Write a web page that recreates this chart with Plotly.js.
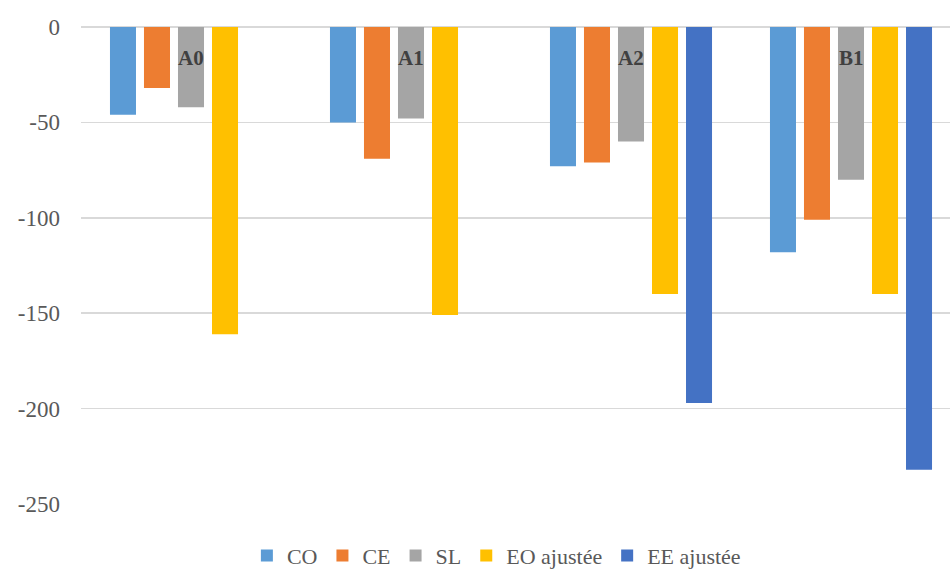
<!DOCTYPE html>
<html>
<head>
<meta charset="utf-8">
<script src="https://cdn.plot.ly/plotly-3.0.1.min.js"></script>
<style>html,body{margin:0;padding:0;background:#fff;}#chart{width:950px;height:571px;}</style>
</head>
<body>
<div id="chart"></div>
<script>
const categories = ["A0", "A1", "A2", "B1"];
const seriesNames = ["CO", "CE", "SL", "EO ajustée", "EE ajustée"];
const CO = [-46, -50, -73, -118];
const CE = [-32, -69, -71, -101];
const SL = [-42, -48, -60, -80];
const EO = [-161, -151, -140, -140];
const EE = [null, null, -197, -232];
const labelY = [-16, -16, -16, -16];
const tickVals = [0, -50, -100, -150, -200, -250];
const tickText = ["0", "-50", "-100", "-150", "-200", "-250"];

const colors = ["#5B9BD5", "#ED7D31", "#A5A5A5", "#FFC000", "#4472C4"];
const values = [CO, CE, SL, EO, EE];
const serif = "'Liberation Serif', 'Times New Roman', serif";

const traces = values.map((v, i) => ({
  type: "bar",
  name: seriesNames[i],
  x: categories,
  y: v,
  marker: {color: colors[i]},
  hoverinfo: "x+y+name"
}));

const annotations = categories.map((c, i) => ({
  x: c, y: labelY[i], xref: "x", yref: "y",
  text: "<b>" + c + "</b>", showarrow: false,
  font: {family: serif, size: 21, color: "#404040"}
}));

const layout = {
  width: 950, height: 571,
  margin: {l: 81, r: 0, t: 27, b: 67, autoexpand: false},
  paper_bgcolor: "#fff", plot_bgcolor: "#fff",
  barmode: "group",
  bargap: 0.227,
  bargroupgap: 0.235,
  showlegend: true,
  legend: {orientation: "h", xref: "paper", x: 0.478, xanchor: "center",
    yref: "container", y: 0.027, yanchor: "middle",
    font: {family: serif, size: 22, color: "#595959"},
    itemwidth: 30, traceorder: "normal"},
  xaxis: {range: [-0.5, 3.45], showticklabels: false, showgrid: false, zeroline: false, showline: false, fixedrange: true},
  yaxis: {range: [-250, 0], tickvals: tickVals, ticktext: tickText,
    showgrid: true, gridcolor: "#d9d9d9", gridwidth: 1.5,
    zeroline: true, zerolinecolor: "#d9d9d9", zerolinewidth: 1.5,
    showline: false, ticks: "", ticklabelstandoff: 20,
    tickfont: {family: serif, size: 23, color: "#595959"}},
  annotations: annotations
};

Plotly.newPlot("chart", traces, layout, {displayModeBar: false, staticPlot: true});
</script>
</body>
</html>
